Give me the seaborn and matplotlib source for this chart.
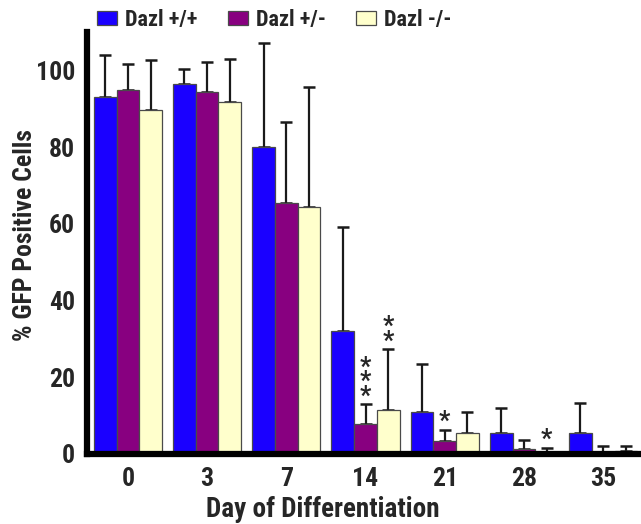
import numpy as np
import pandas as pd
import seaborn as sns
import matplotlib.pyplot as plt

# values
days = ["0", "3", "7", "14", "21", "28", "35"]
genotypes = ["Dazl +/+", "Dazl +/-", "Dazl -/-"]
mean_wt = [93.0, 96.4, 80.0, 32.0, 10.9, 5.6, 5.5]
mean_het = [95.0, 94.3, 65.3, 7.8, 3.4, 1.4, 0.2]
mean_ko = [89.8, 91.7, 64.4, 11.5, 5.5, 0.3, 0.8]
sd_wt = [11.1, 4.0, 27.1, 27.1, 12.5, 6.5, 7.7]
sd_het = [6.6, 8.0, 21.2, 5.2, 2.9, 2.2, 2.0]
sd_ko = [12.8, 11.2, 31.2, 15.8, 5.4, 1.3, 1.3]
# significance marks: (day, genotype, stars)
sig = [("14", "Dazl +/-", "***"), ("14", "Dazl -/-", "**"),
       ("21", "Dazl +/-", "*"), ("28", "Dazl -/-", "*")]

colors = ["#1a00ff", "#880080", "#ffffcc"]

df = pd.DataFrame({
    "day": days * 3,
    "genotype": np.repeat(genotypes, len(days)),
    "value": mean_wt + mean_het + mean_ko,
    "sd": sd_wt + sd_het + sd_ko,
})

sns.set_style("white")
plt.rcParams["font.family"] = ["Roboto Condensed", "DejaVu Sans"]
plt.rcParams["font.weight"] = "bold"

fig = plt.figure(figsize=(6.41, 5.24), dpi=100)
ax = fig.add_axes([0.1365, 0.1336, 0.87, 0.8053])

sns.barplot(data=df, x="day", y="value", hue="genotype", order=days, hue_order=genotypes,
            palette=colors, saturation=1, width=0.86, edgecolor="#4a4a4a", linewidth=0.9,
            errorbar=None, ax=ax, zorder=2)

# one-sided error bars (mean + SD)
tops = {}
for cont, g in zip(ax.containers, genotypes):
    sub = df[df.genotype == g].set_index("day").loc[days]
    xs = [p.get_x() + p.get_width() / 2 for p in cont.patches]
    ax.errorbar(xs, sub["value"], yerr=[np.zeros(len(days)), sub["sd"]], fmt="none",
                ecolor="#1a1a1a", elinewidth=1.6, capsize=4.5, capthick=1.8, zorder=1)
    for d, x, v, s in zip(days, xs, sub["value"], sub["sd"]):
        tops[(d, g)] = (x, v + s)

for d, g, stars in sig:
    x, top = tops[(d, g)]
    ax.annotate("\n".join(stars), xy=(x, top), xytext=(0, -3), textcoords="offset points",
                ha="center", va="bottom", fontsize=18, fontweight="bold", linespacing=0.5)

ax.set_ylim(0, 110)
ax.set_xlim(-0.51, 6.53)
ax.set_yticks([0, 20, 40, 60, 80, 100])
ax.set_ylabel("% GFP Positive Cells", fontsize=18.5, fontweight="bold")
ax.yaxis.set_label_coords(-0.09, 0.52)
ax.set_xlabel("Day of Differentiation", fontsize=19.5, fontweight="bold")
ax.xaxis.set_label_coords(0.422, -0.1)
ax.tick_params(axis="both", labelsize=18.5, direction="out", length=8, width=4, pad=1)
ax.tick_params(axis="x", width=5, length=9, pad=0.5)
for lab in ax.get_xticklabels() + ax.get_yticklabels():
    lab.set_fontweight("bold")
for side in ["top", "right"]:
    ax.spines[side].set_visible(False)
for side in ["left", "bottom"]:
    ax.spines[side].set_linewidth(4.5)
    ax.spines[side].set_color("black")
    ax.spines[side].set_capstyle("projecting")

handles, labels = ax.get_legend_handles_labels()
ax.get_legend().remove()
fig.legend(handles, labels, loc="center", bbox_to_anchor=(0.428, 0.962), ncol=3,
           frameon=False, handlelength=0.9, handleheight=0.62,
           handletextpad=0.38, columnspacing=1.35,
           prop={"family": ["Roboto Condensed", "DejaVu Sans"], "weight": "bold", "size": 16})

fig.savefig("out.png", dpi=100)
